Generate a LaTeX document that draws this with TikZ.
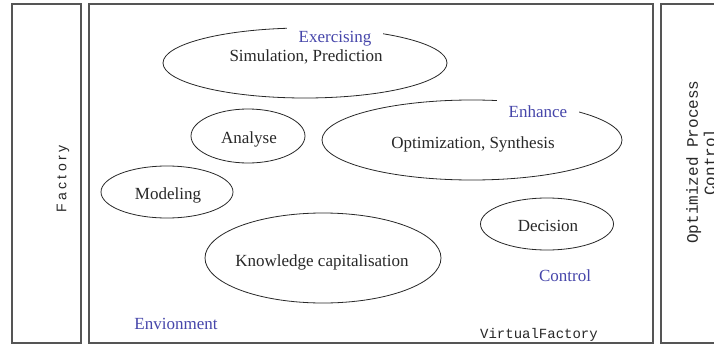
\documentclass[tikz,border=0pt]{standalone}
\usepackage{fontspec}
\setmainfont{Liberation Serif}
\newfontfamily\monof{Liberation Mono}
\newfontfamily\sansf[LetterSpace=25]{Liberation Sans}
\usetikzlibrary{shapes.geometric}
\definecolor{frame}{RGB}{85,85,85}
\definecolor{lbl}{RGB}{70,70,170}
\definecolor{ink}{RGB}{40,40,40}
\tikzset{
  panel/.style={draw=frame, line width=1.3pt, rectangle, inner sep=0pt},
  oval/.style={draw=ink, line width=0.8pt, ellipse, inner sep=0pt},
  etext/.style={font=\fontsize{17}{20}\selectfont, text=ink, anchor=base, inner sep=0pt},
  btext/.style={font=\fontsize{17}{20}\selectfont, text=lbl, anchor=base, inner sep=0pt},
  gaplbl/.style={btext, fill=white, inner xsep=12pt, inner ysep=6pt},
  mtext/.style={font=\monof\fontsize{14}{16}\selectfont, text=ink, anchor=base, inner sep=0pt},
}
\begin{document}
\begin{tikzpicture}[x=1pt,y=-1pt]
\path[use as bounding box, clip] (0,0) rectangle (714,345);
\fill[white] (0,0) rectangle (714,345);
% panels
\node[panel, minimum width=69pt, minimum height=339pt] (factory) at (46.5,173.5) {};
\node[panel, minimum width=564pt, minimum height=339pt] (virtual) at (371,173.5) {};
\node[panel, minimum width=100pt, minimum height=339pt] (optim) at (711,173.5) {};
% panel texts
\node[font=\sansf\fontsize{14}{16}\selectfont, text=ink, rotate=90, inner sep=0pt] (tfactory) at (63,179) {Factory};
\node[font=\monof\fontsize{16}{17.5}\selectfont, text=ink, rotate=90, align=center, inner sep=0pt] (toptim) at (701,162) {Optimized Process\\Control};
% ellipses
\node[oval, minimum width=284pt, minimum height=70pt] (sim) at (305,63) {};
\node[oval, minimum width=114pt, minimum height=54pt] (ana) at (248,136) {};
\node[oval, minimum width=300pt, minimum height=80pt] (opt) at (472,140) {};
\node[oval, minimum width=132pt, minimum height=52pt] (mod) at (167,192) {};
\node[oval, minimum width=236pt, minimum height=90pt] (know) at (323,258) {};
\node[oval, minimum width=133pt, minimum height=52pt] (dec) at (547,224) {};
% labels breaking outlines
\node[gaplbl] (exer) at (335,43) {Exercising};
\node[gaplbl] (enh) at (538,117) {Enhance};
% ellipse texts
\node[etext] (tsim) at (306,62) {Simulation, Prediction};
\node[etext] (tana) at (249,143) {Analyse};
\node[etext] (topt) at (473,148) {Optimization, Synthesis};
\node[etext] (tmod) at (168,199) {Modeling};
\node[etext] (tknow) at (322,266) {Knowledge capitalisation};
\node[etext] (tdec) at (548,231) {Decision};
% free labels
\node[btext] (ctrl) at (565,281) {Control};
\node[btext] (env) at (176,329) {Envionment};
\node[mtext] (vf) at (539,338) {VirtualFactory};
\end{tikzpicture}
\end{document}
